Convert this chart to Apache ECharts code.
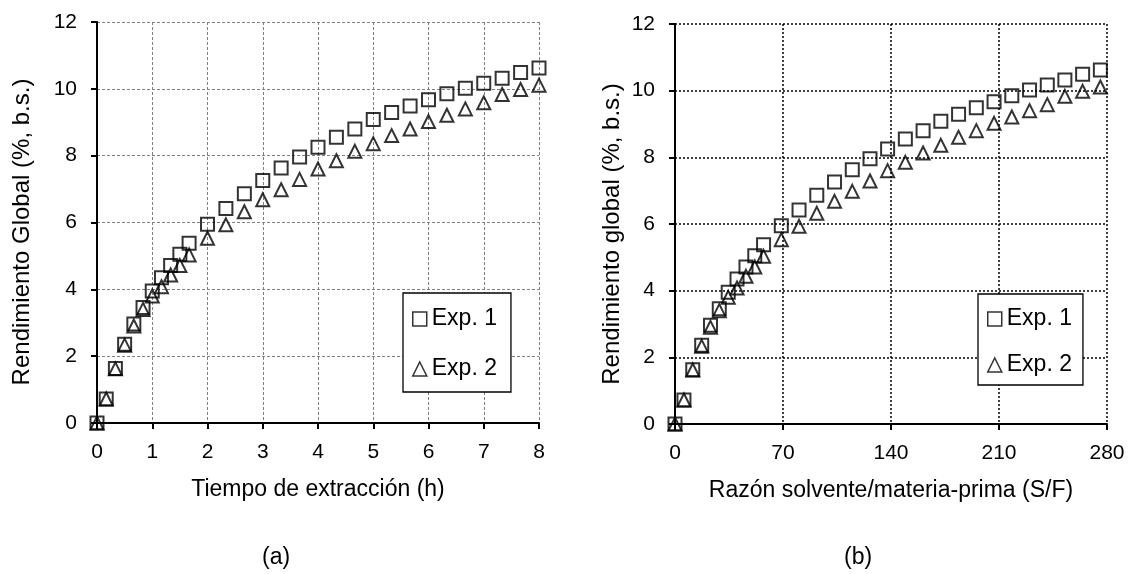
<!DOCTYPE html>
<html>
<head>
<meta charset="utf-8">
<style>
  html, body { margin: 0; padding: 0; background: #fff; }
  #chart { width: 1131px; height: 574px; }
</style>
<script src="https://cdn.jsdelivr.net/npm/echarts@6/dist/echarts.min.js"></script>
</head>
<body>
<div id="chart"></div>
<script>
// Extraction time (h) and the matching solvent-to-feed ratio for each sample
const tiempo = [0, 0.167, 0.333, 0.5, 0.667, 0.833, 1, 1.167, 1.333, 1.5, 1.667, 2, 2.333, 2.667, 3, 3.333, 3.667, 4, 4.333, 4.667, 5, 5.333, 5.667, 6, 6.333, 6.667, 7, 7.333, 7.667, 8];
const razonSF = [0, 5.8, 11.5, 17.3, 23.0, 28.7, 34.5, 40.2, 46.0, 51.7, 57.4, 68.9, 80.4, 91.9, 103.4, 114.9, 126.4, 137.8, 149.3, 160.8, 172.3, 183.8, 195.3, 206.8, 218.3, 229.8, 241.3, 252.7, 264.2, 275.7];

// Global yield (%, dry basis)
const exp1 = [0, 0.72, 1.63, 2.36, 2.96, 3.46, 3.95, 4.35, 4.71, 5.05, 5.38, 5.95, 6.42, 6.86, 7.26, 7.63, 7.96, 8.25, 8.55, 8.80, 9.08, 9.29, 9.49, 9.67, 9.85, 10.02, 10.17, 10.32, 10.49, 10.62];
const exp2 = [0, 0.72, 1.62, 2.33, 2.90, 3.40, 3.80, 4.08, 4.43, 4.71, 5.03, 5.53, 5.93, 6.32, 6.68, 6.98, 7.29, 7.60, 7.85, 8.13, 8.36, 8.60, 8.80, 9.02, 9.21, 9.40, 9.58, 9.83, 9.98, 10.11];

const seriesNames = ['Exp. 1', 'Exp. 2'];
const panelLabels = ['(a)', '(b)'];
const xTitles = ['Tiempo de extracción (h)', 'Razón solvente/materia-prima (S/F)'];
const yTitles = ['Rendimiento Global (%, b.s.)', 'Rendimiento global (%, b.s.)'];

const FONT = 'Liberation Sans, Arial, sans-serif';
const pair = (xs, ys) => xs.map((x, i) => [x, ys[i]]);

// Panel (a) uses grey dashed gridlines, panel (b) black dotted ones
const gridStyles = [
  { color: '#808080', width: 1, type: [3, 2] },
  { color: '#000', width: 1.5, type: [2, 2] }
];

function xAxis(idx, max, interval, title) {
  return {
    type: 'value', gridIndex: idx, min: 0, max: max, interval: interval,
    name: title, nameLocation: 'middle', nameGap: 55,
    nameTextStyle: { fontFamily: FONT, fontSize: 23, color: '#000' },
    axisLine: { onZero: false, lineStyle: { color: '#000', width: 2 } },
    axisTick: { show: true, length: 6, lineStyle: { color: '#000', width: 2 } },
    axisLabel: { fontFamily: FONT, fontSize: 21, color: '#000', margin: 19 },
    splitLine: { show: true, lineStyle: gridStyles[idx] }
  };
}

function yAxis(idx) {
  return {
    type: 'value', gridIndex: idx, min: 0, max: 12, interval: 2,
    axisLine: { show: true, lineStyle: { color: '#000', width: 2 } },
    axisTick: { show: true, length: 6, lineStyle: { color: '#000', width: 2 } },
    axisLabel: { fontFamily: FONT, fontSize: 21, color: '#000', margin: 20 },
    splitLine: { show: true, lineStyle: gridStyles[idx] }
  };
}

function markerSeries(idx, name, data, symbol) {
  return {
    type: 'scatter', name: name, xAxisIndex: idx, yAxisIndex: idx,
    data: data, symbol: symbol, symbolSize: 13,
    itemStyle: { color: 'rgba(255,255,255,0)', borderColor: '#000', borderWidth: 2 },
    emphasis: { disabled: true }
  };
}

function legend(pos, padding, gap) {
  return {
    orient: 'vertical', left: pos[0], top: pos[1],
    data: seriesNames.map((n, i) => ({ name: n, icon: i === 0 ? 'rect' : 'triangle' })),
    itemWidth: 14, itemHeight: 14, itemGap: gap,
    padding: padding,
    borderColor: '#000', borderWidth: 1.3, backgroundColor: '#fff',
    textStyle: { fontFamily: FONT, fontSize: 23, color: '#000', lineHeight: 26 },
    itemStyle: { color: 'rgba(255,255,255,0)', borderColor: '#000', borderWidth: 1.5 },
    selectedMode: false
  };
}

// Vertical y-axis title, centred at (cx, cy)
function yTitle(text, cx, cy) {
  return {
    type: 'text', x: cx, y: cy, rotation: Math.PI / 2,
    style: { text: text, fontFamily: FONT, fontSize: 24, fill: '#000', align: 'center', verticalAlign: 'middle' }
  };
}

const option = {
  animation: false,
  backgroundColor: '#fff',
  grid: [
    { left: 97, top: 22, width: 442, height: 401 },
    { left: 675, top: 24, width: 432, height: 400 }
  ],
  xAxis: [xAxis(0, 8, 1, xTitles[0]), xAxis(1, 280, 70, xTitles[1])],
  yAxis: [yAxis(0), yAxis(1)],
  legend: [
    legend([403, 293], [13, 14, 10, 9], 24),
    legend([978, 294], [12, 11, 7, 9], 20)
  ],
  series: [
    markerSeries(0, seriesNames[0], pair(tiempo, exp1), 'rect'),
    markerSeries(0, seriesNames[1], pair(tiempo, exp2), 'triangle'),
    markerSeries(1, seriesNames[0], pair(razonSF, exp1), 'rect'),
    markerSeries(1, seriesNames[1], pair(razonSF, exp2), 'triangle')
  ],
  graphic: [
    yTitle(yTitles[0], 22, 232),
    yTitle(yTitles[1], 612, 234),
    { type: 'text', left: 262, top: 546, style: { text: panelLabels[0], fontFamily: FONT, fontSize: 23, fill: '#000' } },
    { type: 'text', left: 844, top: 546, style: { text: panelLabels[1], fontFamily: FONT, fontSize: 23, fill: '#000' } }
  ]
};

const chart = echarts.init(document.getElementById('chart'), null, { renderer: 'canvas' });
chart.setOption(option);
</script>
</body>
</html>
